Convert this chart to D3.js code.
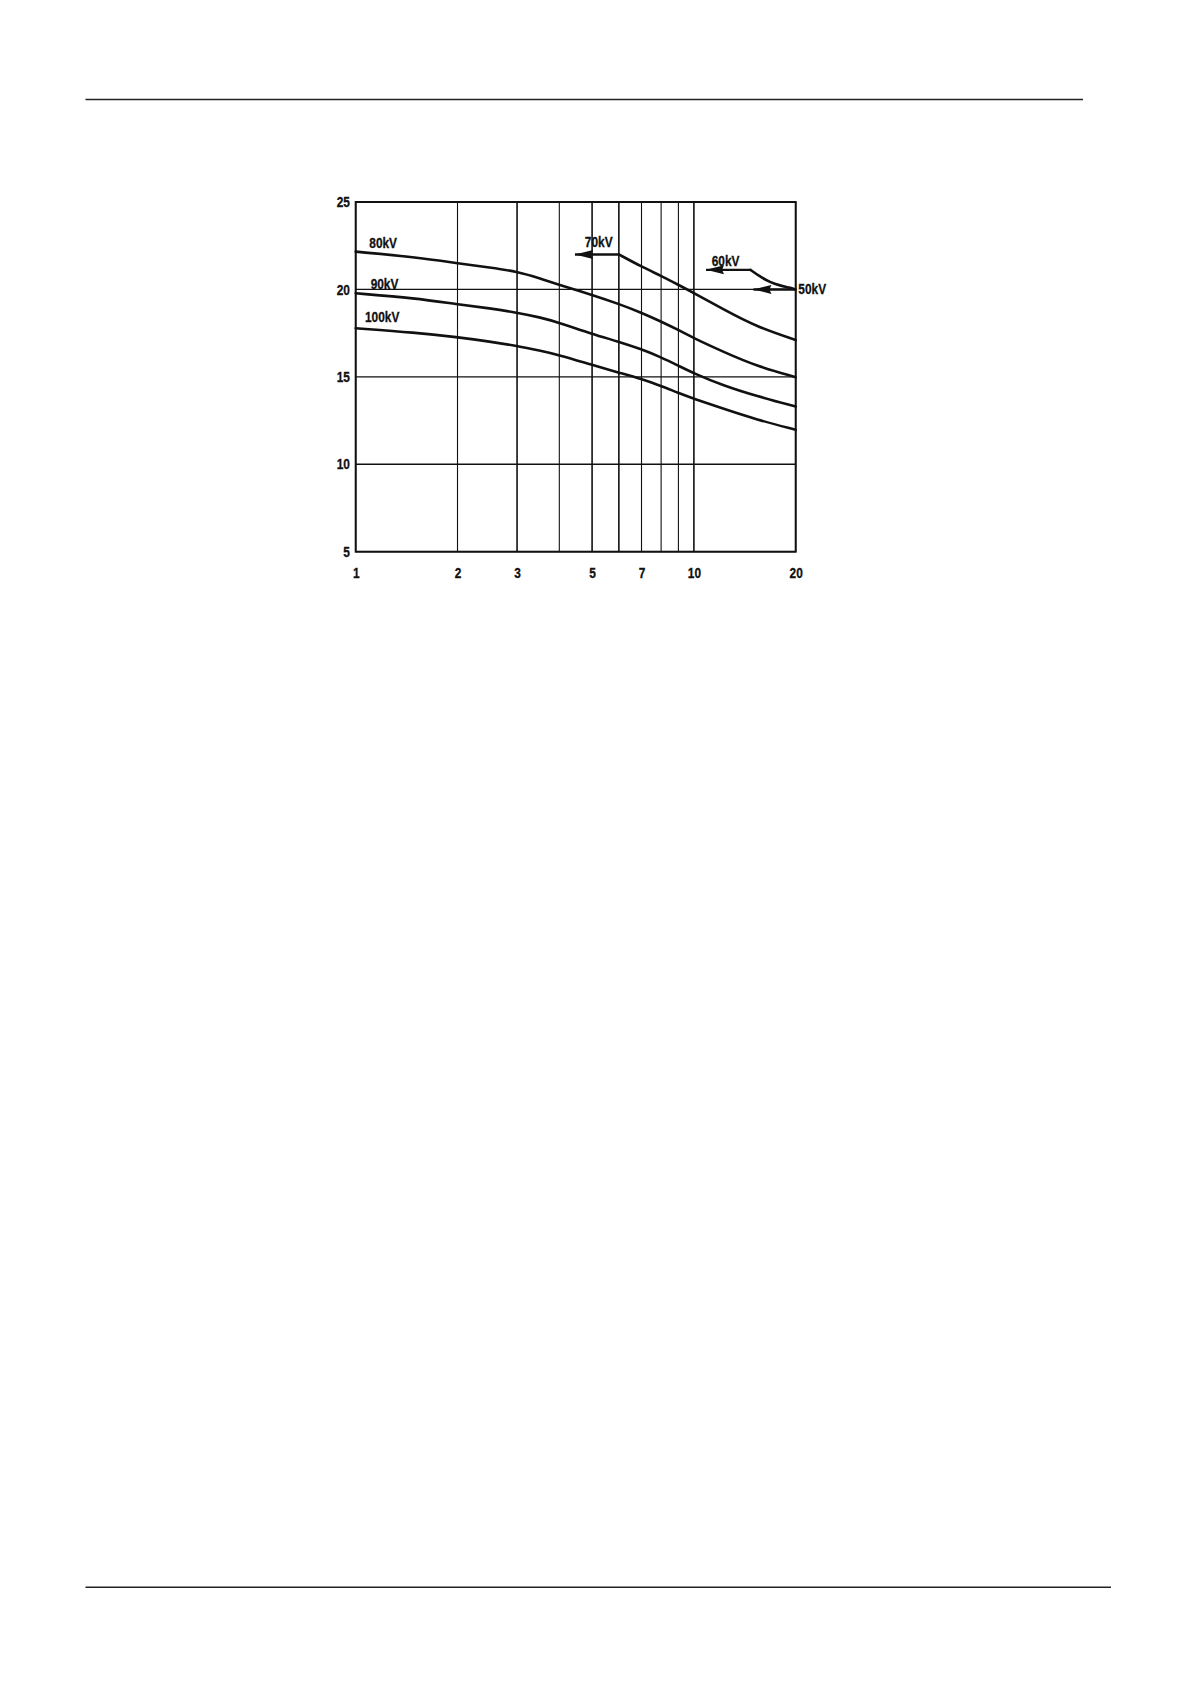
<!DOCTYPE html>
<html>
<head>
<meta charset="utf-8">
<script src="https://cdn.jsdelivr.net/npm/d3@7"></script>
<style>
  body { margin: 0; background: #fff; }
  svg text { font-family: "Liberation Sans", Arial, sans-serif; font-weight: bold; fill: #111; stroke: #111; stroke-width: 0.3px; }
</style>
</head>
<body>
<div id="chart"></div>
<script>
// grid and ticks
const xGrid = [1, 2, 3, 4, 5, 6, 7, 8, 9, 10, 20];
const xTicks = [1, 2, 3, 5, 7, 10, 20];
const yTicks = [5, 10, 15, 20, 25];

// curves
const xs = [1, 1.5, 2, 2.5, 3, 3.5, 4, 5, 6, 7, 8, 9, 10, 12.2, 15.3, 20];
const kv80 = [22.16, 21.84, 21.5, 21.25, 21.02, 20.64, 20.26, 19.69, 19.17, 18.67, 18.16, 17.68, 17.21, 16.44, 15.62, 14.98];
const kv90 = [19.78, 19.5, 19.15, 18.92, 18.67, 18.41, 18.1, 17.45, 17.01, 16.58, 16.12, 15.64, 15.2, 14.5, 13.9, 13.3];
const kv100 = [17.78, 17.53, 17.27, 17.01, 16.77, 16.5, 16.25, 15.68, 15.24, 14.88, 14.48, 14.08, 13.75, 13.18, 12.56, 11.97];
const xs70 = [6, 7, 8, 9, 10, 12.2, 15.3, 20];
const kv70 = [22.0, 21.3, 20.77, 20.26, 19.8, 18.87, 17.87, 17.11];
// 60kV bends down into the 50kV point
const xs60 = [14.7, 15.69, 16.79, 17.97, 19.23, 20];
const kv60 = [21.12, 20.73, 20.41, 20.22, 20.1, 20.0];

// arrows (tip first, then tail)
const arrows = [
  {label: '70kV', x: [4.45, 6], y: [22.0, 22.0]},
  {label: '60kV', x: [10.86, 14.7], y: [21.12, 21.12]},
  {label: '50kV', x: [15, 20], y: [20, 20]}
];

const labels = [
  {text: '80kV', x: 1.097, y: 22.36},
  {text: '90kV', x: 1.107, y: 20.03},
  {text: '100kV', x: 1.065, y: 18.16},
  {text: '70kV', x: 4.76, y: 22.45},
  {text: '60kV', x: 11.29, y: 21.36},
  {text: '50kV', x: 20.36, y: 19.72}
];

const W = 1190, H = 1684;
const squeeze = 0.82;
const svg = d3.select('#chart').append('svg')
  .attr('width', W).attr('height', H);

// page rules
svg.append('line').attr('x1', 85.5).attr('x2', 1083).attr('y1', 99.5).attr('y2', 99.5)
  .attr('stroke', '#222').attr('stroke-width', 1.5);
svg.append('line').attr('x1', 85.5).attr('x2', 1111).attr('y1', 1587.3).attr('y2', 1587.3)
  .attr('stroke', '#222').attr('stroke-width', 1.5);

const x = d3.scaleLog().domain([1, 20]).range([355.7, 795.7]);
const y = d3.scaleLinear().domain([5, 25]).range([551.7, 202]);

const g = svg.append('g');

// vertical grid
g.selectAll('.vg').data(xGrid).join('line')
  .attr('class', 'vg')
  .attr('x1', d => x(d)).attr('x2', d => x(d))
  .attr('y1', y(5)).attr('y2', y(25))
  .attr('stroke', '#111')
  .attr('stroke-width', d => [3, 5, 6, 10].includes(d) ? 1.6 : 1.1);

// horizontal grid
g.selectAll('.hg').data(yTicks).join('line')
  .attr('class', 'hg')
  .attr('x1', x(1)).attr('x2', x(20))
  .attr('y1', d => y(d)).attr('y2', d => y(d))
  .attr('stroke', '#111')
  .attr('stroke-width', d => d === 10 ? 1.6 : 1.2);

// frame
g.append('rect')
  .attr('x', x(1)).attr('y', y(25))
  .attr('width', x(20) - x(1)).attr('height', y(5) - y(25))
  .attr('fill', 'none').attr('stroke', '#111').attr('stroke-width', 2);

// axes labels
const yAxis = d3.axisLeft(y).tickValues(yTicks).tickSize(0).tickPadding(7).tickFormat(d3.format('d'));
g.append('g').attr('transform', `translate(${x(1)},0)`).call(yAxis)
  .call(a => a.select('.domain').remove())
  .selectAll('text')
  .attr('font-size', 14.5).attr('fill', '#111')
  .attr('transform', `scale(${squeeze},1)`);

const xAxis = d3.axisBottom(x).tickValues(xTicks).tickSize(0).tickPadding(16).tickFormat(d3.format('d'));
g.append('g').attr('transform', `translate(0,${y(5)})`).call(xAxis)
  .call(a => a.select('.domain').remove())
  .selectAll('text')
  .attr('font-size', 14.5).attr('fill', '#111')
  .attr('transform', `scale(${squeeze},1)`);

// curves
const line = d3.line().x(d => x(d[0])).y(d => y(d[1])).curve(d3.curveBasis);
const series = [
  d3.zip(xs, kv80),
  d3.zip(xs, kv90),
  d3.zip(xs, kv100),
  d3.zip(xs70, kv70),
  d3.zip(xs60, kv60)
];
g.selectAll('.curve').data(series).join('path')
  .attr('class', 'curve')
  .attr('d', d => line(d))
  .attr('fill', 'none')
  .attr('stroke', '#111')
  .attr('stroke-width', 2.6)
  .attr('stroke-linecap', 'round');

// arrow shafts
g.selectAll('.shaft').data(arrows).join('line')
  .attr('class', 'shaft')
  .attr('x1', d => x(d.x[0])).attr('x2', d => x(d.x[1]))
  .attr('y1', d => y(d.y[0])).attr('y2', d => y(d.y[1]))
  .attr('stroke', '#111').attr('stroke-width', 2.4);

// arrowheads pointing left
g.selectAll('.head').data(arrows).join('path')
  .attr('class', 'head')
  .attr('d', d => {
    const px = x(d.x[0]), py = y(d.y[0]);
    return `M${px},${py} L${px + 18},${py - 4.5} L${px + 16},${py} L${px + 18},${py + 4.5} Z`;
  })
  .attr('fill', '#111');

// curve labels
g.selectAll('.lab').data(labels).join('text')
  .attr('class', 'lab')
  .attr('transform', d => `translate(${x(d.x)},${y(d.y)}) scale(${squeeze},1)`)
  .attr('font-size', 14.5)
  .text(d => d.text);
</script>
</body>
</html>
